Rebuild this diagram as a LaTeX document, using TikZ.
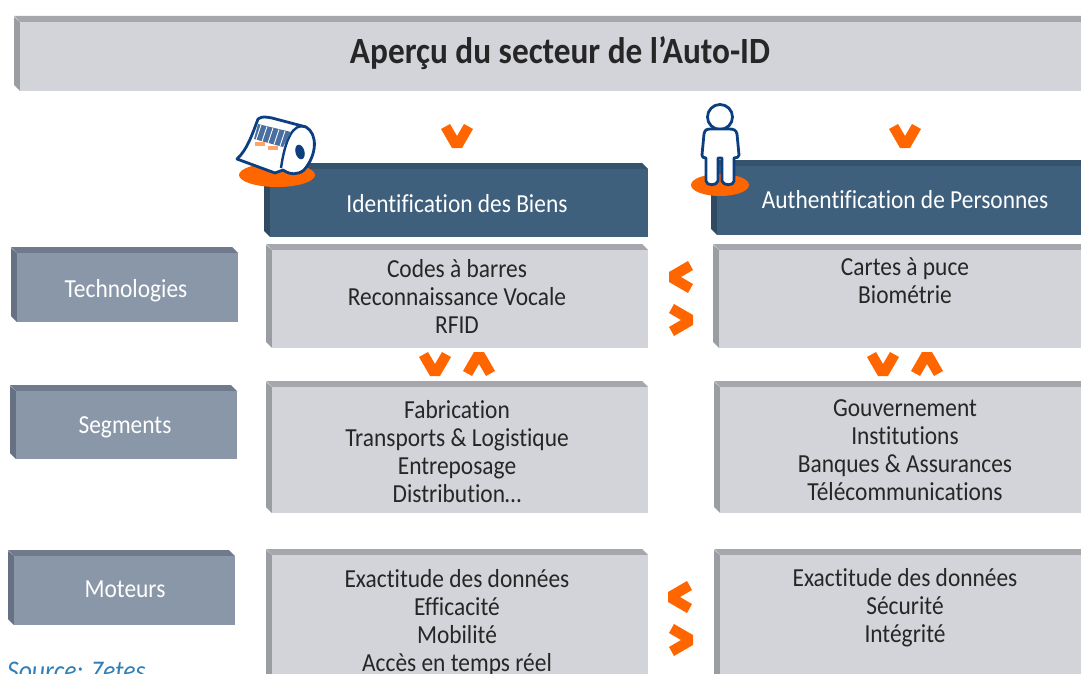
\documentclass[tikz,border=0pt]{standalone}
\usepackage{fontspec}
\setmainfont[Ligatures=CommonOff,FakeStretch=0.9]{Carlito}
\definecolor{navy}{HTML}{0B3F80}
\definecolor{orng}{HTML}{FF6600}
\definecolor{gface}{HTML}{D3D4D9}
\definecolor{gtop}{HTML}{A5A7AC}
\definecolor{gside}{HTML}{9A9DA2}
\definecolor{bface}{HTML}{3F607D}
\definecolor{btop}{HTML}{36536D}
\definecolor{bside}{HTML}{2F4A62}
\definecolor{sface}{HTML}{8A97A8}
\definecolor{stop}{HTML}{6F7B8C}
\definecolor{sside}{HTML}{667283}
\definecolor{srccol}{HTML}{2F7FB8}
\tikzset{
  x=1pt,y=-1pt,
  body/.style={font=\fontsize{26}{28}\selectfont,text=black!85,align=center,anchor=north,inner sep=0pt},
  head/.style={font=\fontsize{26}{28}\selectfont,text=white,align=center,inner sep=0pt},
  chevron/.style={fill=orng},
  iconline/.style={draw=navy,line width=2.8pt,line join=round,fill=white},
}
% x1 y1 x2 y2 face top side
\newcommand{\bevelbox}[7]{%
  \fill[#7] (#1,#2+1) -- (#1+6,#2+6) -- (#1+6,#4) -- (#1,#4-6) -- cycle;
  \fill[#6] (#1,#2) -- (#3-6,#2) -- (#3,#2+6) -- (#1+6,#2+6) -- cycle;
  \fill[#5] (#1+6,#2+6) rectangle (#3,#4);
}
% cx cy rotation (pointing down by default)
\newcommand{\chevmark}[3]{%
  \fill[chevron,shift={(#1,#2)},rotate=#3] (-16,-7) -- (-7,-12) -- (0,0) -- (7,-12) -- (16,-7) -- (5,12) -- (-5,12) -- cycle;
}
\begin{document}
\begin{tikzpicture}
\useasboundingbox (0,0) rectangle (1081,674);
\clip (0,0) rectangle (1081,674);
\fill[white] (0,0) rectangle (1081,674);
% title
\bevelbox{14}{16}{1090}{91}{gface}{gtop}{gside}
\node[font=\fontsize{37}{38}\selectfont\bfseries,text=black!85,inner sep=0pt] (title) at (560,53) {Aperçu du secteur de l’Auto-ID};
% headers
\bevelbox{264}{163}{648}{237}{bface}{btop}{bside}
\bevelbox{711}{160}{1090}{235}{bface}{btop}{bside}
\node[head] (biens) at (457,204) {Identification des Biens};
\node[head] (pers) at (905,200) {Authentification de Personnes};
% row labels
\bevelbox{11}{247}{238}{322}{sface}{stop}{sside}
\bevelbox{10}{385}{237}{459}{sface}{stop}{sside}
\bevelbox{8}{550}{235}{625}{sface}{stop}{sside}
\node[head] (tech) at (126,291) {Technologies};
\node[head] (seg) at (125,427) {Segments};
\node[head] (mot) at (125,589) {Moteurs};
% content boxes
\bevelbox{266}{244}{648}{348}{gface}{gtop}{gside}
\bevelbox{713}{244}{1090}{348}{gface}{gtop}{gside}
\bevelbox{266}{381}{648}{513}{gface}{gtop}{gside}
\bevelbox{714}{381}{1090}{513}{gface}{gtop}{gside}
\bevelbox{266}{549}{648}{690}{gface}{gtop}{gside}
\bevelbox{714}{549}{1090}{690}{gface}{gtop}{gside}
\node[body] (t1) at (457,259) {Codes à barres\\Reconnaissance Vocale\\RFID};
\node[body] (t2) at (905,258) {Cartes à puce\\Biométrie};
\node[body] (s1) at (457,400) {Fabrication\\Transports \& Logistique\\Entreposage\\Distribution…};
\node[body] (s2) at (905,399) {Gouvernement\\Institutions\\Banques \& Assurances\\Télécommunications};
\node[body] (m1) at (457,569) {Exactitude des données\\Efficacité\\Mobilité\\Accès en temps réel};
\node[body] (m2) at (905,568) {Exactitude des données\\Sécurité\\Intégrité};
\node[font=\fontsize{28.5}{30}\selectfont\itshape,text=srccol,anchor=west,inner sep=0pt] (src) at (7,671) {Source: Zetes};
% chevrons
\chevmark{457}{136}{0}
\chevmark{905}{136}{0}
\chevmark{681}{277}{-90}
\chevmark{681}{320}{90}
\chevmark{435}{364}{0}
\chevmark{479}{364}{180}
\chevmark{883}{364}{0}
\chevmark{927}{364}{180}
\chevmark{680}{597}{-90}
\chevmark{681}{640}{90}
% roll icon
\fill[orng] (277,175) ellipse [x radius=38,y radius=12];
\draw[iconline] (258,119) .. controls (262,116) and (266,117) .. (272,118) -- (306,127)
  .. controls (318,134) and (317,155) .. (304,170) .. controls (298,175) and (290,175) .. (283,170)
  -- (275,173) -- (237,159) .. controls (247,150) and (252,135) .. (258,119) -- cycle;
\draw[navy,line width=2.4pt] (306,127) .. controls (293,122) and (285,140) .. (281,168);
\fill[navy,rotate around={15:(300,152)}] (300,152) ellipse [x radius=4.5,y radius=7.5];
\fill[navy!75!white] (258,124) -- (291,132) -- (283,147) -- (254,139) -- cycle;
\foreach \i in {0,1,2,3,4}{\draw[white,line width=.9pt] (261+6*\i,125+1.5*\i) -- (256+6*\i,140+1.5*\i);}
\fill[orng!60!white] (255,142) rectangle (265,146);
\fill[orng!60!white] (268,146) rectangle (278,150);
% person icon
\fill[orng] (720,185) ellipse [x radius=29,y radius=11];
\draw[iconline] (720,117) circle [radius=12.5];
\draw[iconline] (711,129) .. controls (706,129) and (705,130) .. (704,134) -- (702,155)
  .. controls (702,157) and (703,158) .. (706,158) -- (706,181) .. controls (706,186) and (717,186) .. (718,181)
  -- (718,158) -- (722,158) -- (722,181) .. controls (723,186) and (734,186) .. (734,181) -- (734,158)
  .. controls (737,158) and (739,157) .. (739,155) -- (737,134) .. controls (736,130) and (734,129) .. (729,129) -- cycle;
\end{tikzpicture}
\end{document}
